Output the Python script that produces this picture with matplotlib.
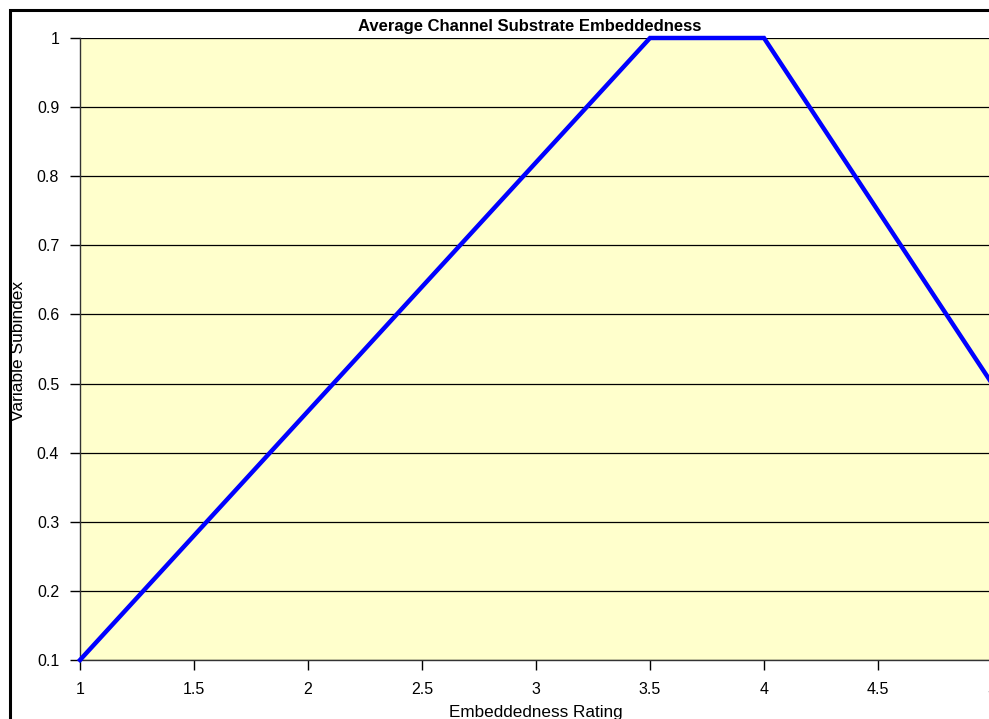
import matplotlib
matplotlib.use("Agg")
import matplotlib.pyplot as plt
from matplotlib.patches import Rectangle

rating = [1, 3.5, 4, 5]
subindex = [0.1, 1.0, 1.0, 0.5]
xticks = [1, 1.5, 2, 2.5, 3, 3.5, 4, 4.5, 5]
yticks = [0.1, 0.2, 0.3, 0.4, 0.5, 0.6, 0.7, 0.8, 0.9, 1.0]

plt.rcParams['font.family'] = ['Liberation Sans', 'DejaVu Sans']

W, H = 989, 719
fig = plt.figure(figsize=(W/100, H/100), dpi=100)
fig.patch.set_facecolor('white')

# outer chart border (cut off at right and bottom)
fig.patches.append(Rectangle((10/W, -0.05), 1.1, 1 - 10/H + 0.05, transform=fig.transFigure,
                             fill=False, edgecolor='black', linewidth=2.2))

x0, x1 = 80, 992
y0, y1 = 660, 38
ax = fig.add_axes([x0/W, 1 - y0/H, (x1 - x0)/W, (y0 - y1)/H])
ax.set_facecolor('#FFFFCC')
ax.plot(rating, subindex, color='#0000FF', linewidth=3.2, solid_joinstyle='miter', clip_on=False, zorder=3)
ax.set_xlim(1, 5)
ax.set_ylim(0.1, 1.0)
ax.set_xticks(xticks)
ax.set_xticklabels([f"{t:g}" for t in xticks])
ax.set_yticks(yticks)
ax.set_yticklabels([f"{t:g}" for t in yticks])
ax.yaxis.grid(True, color='black', linewidth=0.9)
ax.set_axisbelow(True)
for s in ['top', 'right']:
    ax.spines[s].set_visible(False)
for s in ['left', 'bottom']:
    ax.spines[s].set_color('#333333')
    ax.spines[s].set_linewidth(1.0)
ax.tick_params(axis='both', direction='out', length=7, width=1, labelsize=11.5, colors='black')
ax.tick_params(axis='x', pad=9)
ax.tick_params(axis='y', pad=8)

fig.text(530/W, 1 - 26/H, 'Average Channel Substrate Embeddedness', ha='center', va='center',
         fontsize=12, fontweight='bold')
fig.text(19/W, 1 - 351/H, 'Variable Subindex', ha='center', va='center', rotation=90, fontsize=12.5)
fig.text(536/W, 1 - 712/H, 'Embeddedness Rating', ha='center', va='center', fontsize=12.3)

fig.savefig('out.png', dpi=100)
